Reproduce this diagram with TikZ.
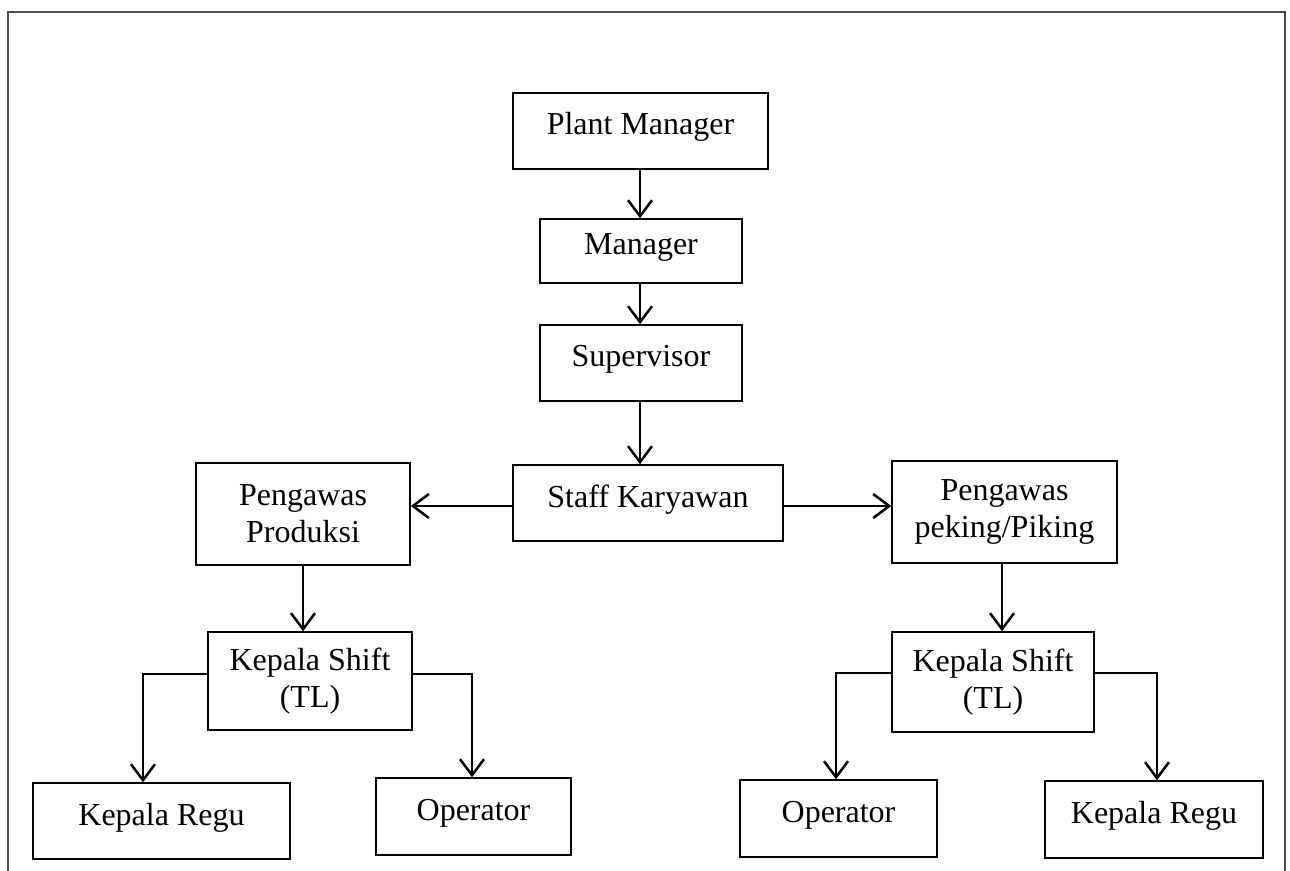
\documentclass[tikz,border=0pt]{standalone}
\usepackage{fontspec}
\setmainfont{Liberation Serif}
\usetikzlibrary{arrows.meta}
\begin{document}
\begin{tikzpicture}[x=0.5pt,y=-0.5pt,
  box/.style={draw=black,line width=0.75pt,rectangle,inner sep=0pt,font=\fontsize{16}{18.5}\selectfont,align=center},
  one/.style={box,text height=11pt,text depth=7pt},
  arr/.style={line width=1.25pt,-{Straight Barb[length=8pt,width=12pt,line width=1.25pt]}},
  frame/.style={draw=black!70,line width=1pt}]
\useasboundingbox (0,0) rectangle (1290,871);
\draw[frame] (8,871) -- (8,12) -- (1285,12) -- (1285,871);

\node[one,minimum width=255pt*0.5,minimum height=76pt*0.5] (pm) at (640.5,131) {Plant Manager};
\node[one,minimum width=202pt*0.5,minimum height=64pt*0.5] (mgr) at (641,251) {Manager};
\node[one,minimum width=202pt*0.5,minimum height=76pt*0.5] (sup) at (641,363) {Supervisor};
\node[one,minimum width=270pt*0.5,minimum height=76pt*0.5] (staff) at (648,503) {Staff Karyawan};
\node[box,minimum width=214pt*0.5,minimum height=102pt*0.5] (pp) at (303,514) {Pengawas\\Produksi};
\node[box,minimum width=225pt*0.5,minimum height=102pt*0.5] (pk) at (1004.5,512) {Pengawas\\peking/Piking};
\node[box,minimum width=204pt*0.5,minimum height=98pt*0.5] (ksl) at (310,681) {Kepala Shift\\(TL)};
\node[box,minimum width=202pt*0.5,minimum height=100pt*0.5] (ksr) at (993,682) {Kepala Shift\\(TL)};
\node[one,minimum width=257pt*0.5,minimum height=76pt*0.5] (krl) at (161.5,821) {Kepala Regu};
\node[one,minimum width=195pt*0.5,minimum height=77pt*0.5] (opl) at (473.5,816.5) {Operator};
\node[one,minimum width=197pt*0.5,minimum height=77pt*0.5] (opr) at (838.5,818.5) {Operator};
\node[one,minimum width=218pt*0.5,minimum height=77pt*0.5] (krr) at (1154,819.5) {Kepala Regu};

\coordinate (v1) at (640,0);
\coordinate (h1) at (0,506);
\coordinate (bl1) at (143,674);
\coordinate (bl2) at (472,674);
\coordinate (br1) at (836,673);
\coordinate (br2) at (1157,673);

\draw[arr] (pm.south -| v1) -- (mgr.north -| v1);
\draw[arr] (mgr.south -| v1) -- (sup.north -| v1);
\draw[arr] (sup.south -| v1) -- (staff.north -| v1);
\draw[arr] (staff.west |- h1) -- (pp.east |- h1);
\draw[arr] (staff.east |- h1) -- (pk.west |- h1);
\draw[arr] (pp.south) -- (pp.south |- ksl.north);
\draw[arr] (pk.south -| 1002,0) -- (ksr.north -| 1002,0);
\draw[arr] (ksl.west |- bl1) -| (bl1 |- krl.north);
\draw[arr] (ksl.east |- bl2) -| (bl2 |- opl.north);
\draw[arr] (ksr.west |- br1) -| (br1 |- opr.north);
\draw[arr] (ksr.east |- br2) -| (br2 |- krr.north);
\end{tikzpicture}
\end{document}
